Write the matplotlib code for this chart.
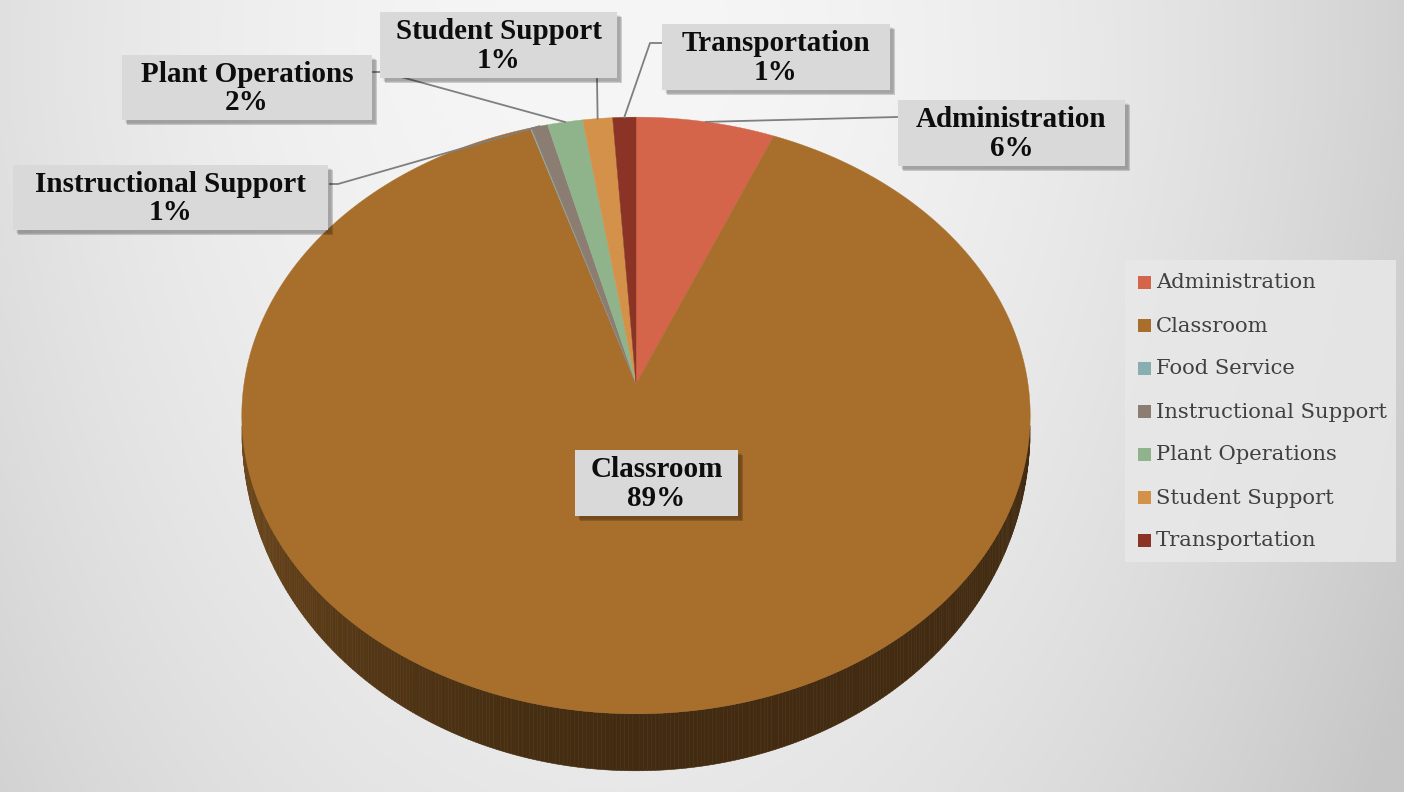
import numpy as np
import matplotlib.pyplot as plt
from matplotlib.patches import Polygon, Rectangle
from matplotlib.collections import PolyCollection

# data (percent of total spending)
categories = ['Administration', 'Classroom', 'Food Service', 'Instructional Support',
              'Plant Operations', 'Student Support', 'Transportation']
shares = [6.3, 88.9, 0.05, 0.75, 1.6, 1.35, 1.05]
colors = ['#d4644a', '#a86e2b', '#89aeb0', '#8b7d72', '#8fb48b', '#d3914a', '#8b3425']

# label boxes: (left, top, width, height) in pixels, and leader line bend points
label_boxes = {
    'Administration': (898, 100, 227, 66),
    'Classroom': (575, 450, 163, 66),
    'Instructional Support': (13, 165, 315, 65),
    'Plant Operations': (122, 55, 250, 65),
    'Student Support': (380, 12, 237, 66),
    'Transportation': (662, 24, 228, 66),
}
leader_pts = {
    'Administration': [(897, 117)],
    'Instructional Support': [(338, 184), (330, 184)],
    'Plant Operations': [(383, 72), (373, 72)],
    'Student Support': [(597, 79)],
    'Transportation': [(650, 43), (662, 43)],
}

W, H = 1404, 792
fig = plt.figure(figsize=(W / 100, H / 100), dpi=100)
ax = fig.add_axes([0, 0, 1, 1])
ax.set_xlim(0, W)
ax.set_ylim(H, 0)
ax.axis('off')

# background gradient
yy, xx = np.mgrid[0:H, 0:W]
dx = (xx - 620) / 800.0
dy = (yy - 90) / 700.0
g = 246 - 36 * dx ** 2 - 8 * dy ** 2 - 2 * np.clip(dx, 0, None) - 6 * np.clip(dy, 0, None)
g = np.clip(g, 198, 250) / 255.0
ax.imshow(np.dstack([g, g, g]), extent=[0, W, H, 0], zorder=0, aspect='auto')

# perspective projection of the pie disc
cx, cy = 636, 384
A, B, k = 392, 295, 0.1055
depth = 57


def project(theta):
    u = np.sin(theta)
    v = np.cos(theta)
    w = 1 + k * v
    return cx + A * u / w, cy - B * v / w


def wall(theta):
    return depth * np.clip(-np.cos(theta), 0, None) ** 0.7


fr = np.array(shares) / sum(shares)
edges = np.concatenate([[0], np.cumsum(fr)]) * 2 * np.pi


def shade(col, f):
    r, g_, b = [int(col[i:i + 2], 16) / 255.0 for i in (1, 3, 5)]
    return (r * f, g_ * f, b * f)


# side wall (visible front part only)
quads, qcols = [], []
for i, col in enumerate(colors):
    t0 = max(edges[i], np.radians(98))
    t1 = min(edges[i + 1], np.radians(262))
    if t1 <= t0:
        continue
    ts = np.linspace(t0, t1, max(2, int((t1 - t0) / np.radians(0.5))))
    for a, b in zip(ts[:-1], ts[1:]):
        x1, y1 = project(a)
        x2, y2 = project(b)
        quads.append([(x1, y1), (x2, y2), (x2, y2 + wall(b)), (x1, y1 + wall(a))])
        tm = (a + b) / 2
        f = 0.39 + 0.32 * max(0, (tm - np.pi) / (np.pi / 2)) ** 1.3
        qcols.append(shade(col, f))
ax.add_collection(PolyCollection(quads, facecolors=qcols, edgecolors=qcols,
                                 linewidths=0.4, zorder=2))

# top face
for i, col in enumerate(colors):
    ts = np.linspace(edges[i], edges[i + 1], max(2, int((edges[i + 1] - edges[i]) / np.radians(0.2))))
    xs, ys = project(ts)
    pts = [(cx, cy)] + list(zip(xs, ys))
    ax.add_patch(Polygon(pts, closed=True, facecolor=col, edgecolor=col,
                         linewidth=0.3, zorder=3))

# leader lines
for i, name in enumerate(categories):
    if name not in leader_pts:
        continue
    mid = (edges[i] + edges[i + 1]) / 2
    ax_, ay_ = project(mid)
    pts = [(ax_, ay_)] + leader_pts[name]
    ax.plot([p[0] for p in pts], [p[1] for p in pts], color='#7f7f7f', lw=1.3, zorder=4)

# data labels
for i, name in enumerate(categories):
    if name not in label_boxes:
        continue
    x0, y0, bw, bh = label_boxes[name]
    for s in range(6, 0, -1):
        ax.add_patch(Rectangle((x0 + 3 + s * 0.4, y0 + 3 + s * 0.4), bw, bh,
                               facecolor='black', alpha=0.06, lw=0, zorder=5))
    ax.add_patch(Rectangle((x0, y0), bw, bh, facecolor='#d9d9d9', lw=0, zorder=6))
    pct = round(shares[i] / sum(shares) * 100)
    ax.text(x0 + bw / 2, y0 + bh / 2 + 1, f'{name}\n{pct}%', ha='center', va='center',
            fontsize=21, fontweight='bold', family='Liberation Serif',
            color='#0d0d0d', linespacing=1.05, zorder=7)

# legend
ax.add_patch(Rectangle((1125, 260), 271, 302, facecolor='#e8e8e8', alpha=0.85, lw=0, zorder=5))
for j, (name, col) in enumerate(zip(categories, colors)):
    yc = 282 + 43 * j
    ax.add_patch(Rectangle((1138, yc - 6.5), 13, 13, facecolor=col, lw=0, zorder=6))
    ax.text(1156, yc + 1, name, ha='left', va='center', fontsize=15.2,
            family='DejaVu Serif', color='#404040', zorder=6)

fig.savefig('out.png', dpi=100)
